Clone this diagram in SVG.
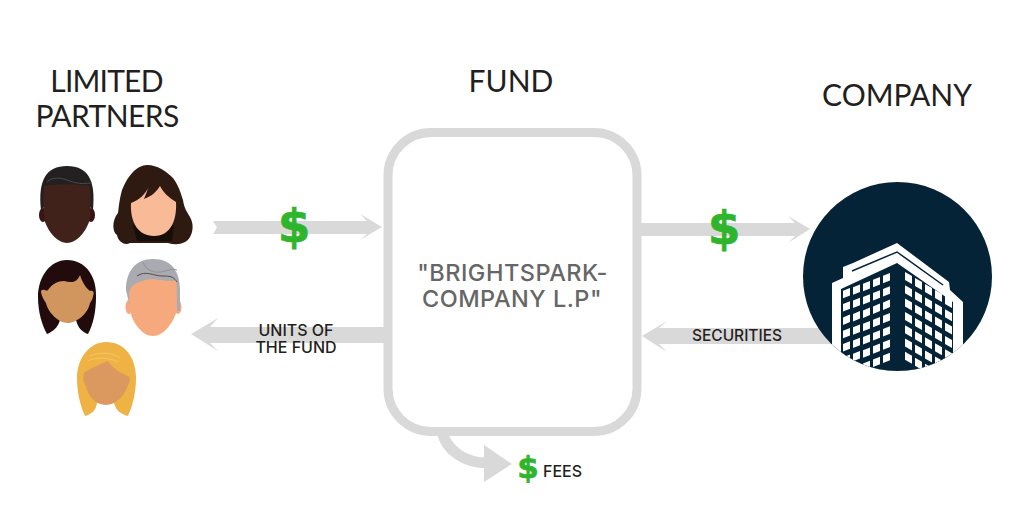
<svg xmlns="http://www.w3.org/2000/svg" xmlns:xlink="http://www.w3.org/1999/xlink" width="1024" height="512" viewBox="0 0 1024 512">
<style>
.arrow{fill:#d9d9d9}
.head{font-family:"Lato","Liberation Sans",sans-serif;font-size:30px;fill:#231f20;text-anchor:middle}
.lab{font-family:"Inter","Liberation Sans",sans-serif;font-weight:500;fill:#231f20;text-anchor:middle}
.usd{font-family:"DejaVu Sans",sans-serif;font-weight:700;fill:#2fb52c;stroke:#2fb52c;stroke-width:.7;text-anchor:middle}
.fund{font-family:"Inter","Liberation Sans",sans-serif;font-size:23.5px;font-weight:500;letter-spacing:.5px;fill:#666;text-anchor:middle}
.w{fill:#fff}
</style>
<defs>
<clipPath id="circ"><circle cx="897.5" cy="276.5" r="94.5"/></clipPath>
<path id="wl" d="M0 2.8L7 0V7.5L0 10.3Z"/>
<path id="wr" d="M0 0L7 4V12L0 8Z"/>
<g id="colL"><use xlink:href="#wl"/><use xlink:href="#wl" y="13.3"/><use xlink:href="#wl" y="26.6"/><use xlink:href="#wl" y="39.9"/><use xlink:href="#wl" y="53.2"/><use xlink:href="#wl" y="66.5"/><use xlink:href="#wl" y="79.8"/></g>
<g id="colR"><use xlink:href="#wr"/><use xlink:href="#wr" y="13.3"/><use xlink:href="#wr" y="26.6"/><use xlink:href="#wr" y="39.9"/><use xlink:href="#wr" y="53.2"/><use xlink:href="#wr" y="66.5"/><use xlink:href="#wr" y="79.8"/></g>
</defs>
<rect width="1024" height="512" fill="#fff"/>
<g id="connectors">
<path class="arrow" d="M213 221H367L360 214L382 227L360 240L367 234H213L217 227.5Z"/>
<path class="arrow" d="M385 327H210L218 318L191 334L218 351L210 343H385Z"/>
<path class="arrow" d="M641 223H795L788 216L810 229L788 243L795 236H641Z"/>
<path class="arrow" d="M835 328H659L667 321L642 336L667 352L659 344H835Z"/>
<path d="M442 431C446 450 464 463 488 463" fill="none" stroke="#d9d9d9" stroke-width="11"/>
<path class="arrow" d="M484 445L512 464L484 482Z"/>
</g>
<g id="lp-label"><text class="head" x="106.500" y="92" style="letter-spacing:-.8px">LIMITED</text><text class="head" x="107" y="127" style="letter-spacing:-.6px">PARTNERS</text></g>
<g id="face-1">
<ellipse cx="43" cy="215" rx="4" ry="7" fill="#3a1410"/><ellipse cx="91" cy="215" rx="4" ry="7" fill="#3a1410"/>
<path fill="#222020" d="M41 210C38 180 46 166 67 166C88 166 96 180 93 210L89 206H45Z"/>
<path fill="none" stroke="#4a4a4a" stroke-width="1" d="M47 182C52 177 60 177 70 181S86 183 92 183"/>
<path fill="#41221a" d="M44 186C56 184 78 184 90 186C91 200 91 212 89 222C85 233 76 243 67 243C58 243 49 233 45 222C43 212 43 198 44 186Z"/>
</g>
<g id="face-2">
<path fill="#2e1a10" d="M147 165C158 165 167 172 173 178C179 186 181 194 183 200C184 208 187 212 190 217C194 224 193 232 190 237C187 243 178 246 168 243H130C124 246 118 241 117 235C112 232 112 220 118 213C119 204 120 197 122 190C125 182 129 176 133 172C137 168 142 165 147 165Z"/>
<path fill="#170e08" d="M133 225H174L172 241H137Z"/>
<path fill="#f9ba97" d="M131 203C139 200 146 194 149 186L144 199C152 196 156 192 160 186C164 194 170 198 176 202C177 218 172 236 154 236C138 236 130 222 131 203Z"/>
</g>
<g id="face-3">
<path fill="#220b0c" d="M67 260C86 260 97 277 96 297C96 312 93 325 88 334C82 332 78 328 76 320H60C58 328 52 332 47 334C42 325 38 312 38 297C38 277 50 260 67 260Z"/>
<path fill="#d1955e" d="M41 291C44 288 46 292 48 290C52 284 58 281 64 281C71 283 77 283 80 275C82 282 86 288 90 291C92 290 95 291 93 296C93 299 91 301 90 303C88 314 76 323 68 323C58 323 48 312 46 303C44 300 41 295 41 291Z"/>
</g>
<g id="face-4">
<ellipse cx="129" cy="307" rx="3.500" ry="7" fill="#f6a97d"/><ellipse cx="178" cy="307" rx="3.500" ry="7" fill="#f6a97d"/>
<path fill="#a9abb0" d="M153 259C172 259 180 272 180 290V311H175V290H133L131 311L126 290C126 272 135 259 153 259Z"/>
<path fill="#f6a97d" d="M129 295C129 287 134 282 150 279C160 279 170 283 176 280C177 285 177 295 177 310C174 322 164 336 153 336C142 336 132 322 130 310Z"/>
<path fill="none" stroke="#5b4a4a" stroke-width="1" d="M137 276C146 270 153 276 163 276S174 278 177 282"/>
<path fill="none" stroke="#8f9196" stroke-width="1" d="M143 262C146 270 153 273 160 272S172 268 177 270"/>
</g>
<g id="face-5">
<path fill="#eeb245" d="M106 342C125 342 136 358 136 378C136 392 133 405 128 416C120 414 116 410 114 403H97C96 410 92 414 85 416C80 405 77 392 77 378C77 358 90 342 106 342Z"/>
<path fill="#db995f" d="M85 372C92 368 100 364 108 361C112 368 122 374 128 376C131 378 130 382 128 385C125 396 115 405 106 405C96 405 88 396 86 386C83 382 82 374 85 372Z"/>
<path fill="none" stroke="#f5c866" stroke-width="1" d="M90 356C98 352 112 352 120 358M88 361C96 357 108 357 118 362"/>
</g>
<g id="fund-label"><text class="head" x="511" y="92">FUND</text></g>
<g id="fund">
<rect x="388" y="132.500" width="249" height="299" rx="43" fill="#fff" stroke="#d9d9d9" stroke-width="9"/>
<text class="fund" x="512.500" y="281">"BRIGHTSPARK-</text>
<text class="fund" x="512" y="307">COMPANY L.P"</text>
</g>
<g id="company-label"><text class="head" x="897" y="106">COMPANY</text></g>
<g id="company">
<circle cx="897.500" cy="276.500" r="94.500" fill="#052337"/>
<g clip-path="url(#circ)">
<path fill="#fff" d="M832 283L843 278V267L853 263L897 243L949 282L950 290L963 302V380H832Z"/>
<path fill="none" stroke="#052337" stroke-width="1.500" d="M852 271L897 252L943 285"/>
<path fill="#052337" d="M841 289L897 263L953 302V380H841Z"/>
<g class="w">
<use xlink:href="#colL" x="843" y="288"/><use xlink:href="#colL" x="853" y="284.500"/><use xlink:href="#colL" x="863" y="281"/><use xlink:href="#colL" x="873" y="277"/><use xlink:href="#colL" x="883" y="273"/>
<use xlink:href="#colR" x="905" y="272"/><use xlink:href="#colR" x="915" y="278"/><use xlink:href="#colR" x="925" y="284"/><use xlink:href="#colR" x="935" y="290"/><use xlink:href="#colR" x="945" y="296"/>
</g>
</g>
</g>
<g id="labels">
<text class="usd" x="294" y="242" font-size="47">$</text>
<text class="usd" x="724" y="244" font-size="47">$</text>
<text class="usd" x="528" y="478" font-size="31">$</text>
<text class="lab" x="296" y="336" font-size="16">UNITS OF</text>
<text class="lab" x="296" y="353" font-size="16">THE FUND</text>
<text class="lab" x="737" y="341" font-size="15.500">SECURITIES</text>
<text class="lab" x="562.500" y="477" font-size="16">FEES</text>
</g>
</svg>
